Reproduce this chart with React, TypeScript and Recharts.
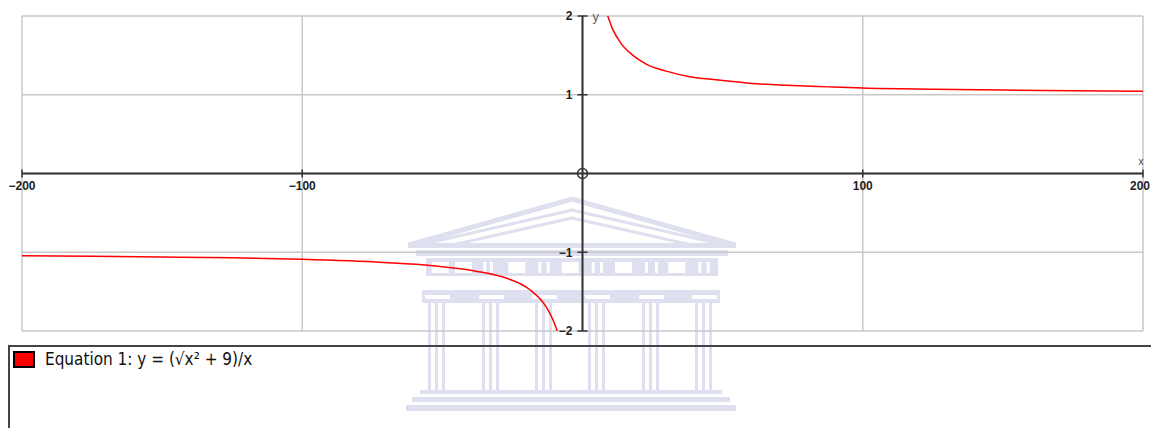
import {
  LineChart,
  Line,
  XAxis,
  YAxis,
  CartesianGrid,
  ReferenceLine,
  ReferenceDot,
} from "recharts";

// values
const RIGHT_X = [9, 10.8, 13.8, 18, 22.7, 29.9, 38.2, 47.7, 62, 72.7, 87.5, 100, 125, 150, 175, 200];
const RIGHT_Y = [2.0, 1.83, 1.65, 1.5, 1.39, 1.3, 1.23, 1.19, 1.14, 1.12, 1.1, 1.085, 1.07, 1.06, 1.05, 1.045];
const LEFT_X = [-200, -175, -150, -125, -100, -71, -53.5, -38, -27, -19, -13, -10.5, -9];
const LEFT_Y = [-1.045, -1.05, -1.06, -1.07, -1.09, -1.13, -1.17, -1.24, -1.33, -1.47, -1.69, -1.86, -2.0];

const X_GRID = [-200, -100, 0, 100, 200];
const Y_GRID = [-2, -1, 0, 1, 2];
const X_LABELS = [-200, -100, 100, 200];
const Y_LABELS = [2, 1, -1, -2];

const LEGEND_TEXT = "Equation 1: y = (√x² + 9)/x";

const rightData = RIGHT_X.map((x, i) => ({ x, y: RIGHT_Y[i] }));
const leftData = LEFT_X.map((x, i) => ({ x, y: LEFT_Y[i] }));

const fmt = (v: number) => (v < 0 ? `\u2212${-v}` : `${v}`);

const tickFont = {
  fill: "#222",
  fontSize: 12,
  fontWeight: 700,
  fontFamily: "Liberation Sans, Arial, sans-serif",
};

const WM = "#dee0ef";

function Watermark() {
  const cols = [437, 491, 544, 597, 651, 704];
  const wide = [95, 165, 325, 485, 645, 805];
  const slits = [250, 270, 415, 440, 575, 600, 735, 765, 895, 920];
  return (
    <svg width={1151} height={428} style={{ position: "absolute", left: 0, top: 0 }}>
      <polyline points="409,245 572,199 735,245" fill="none" stroke={WM} strokeWidth={5} />
      <polyline points="428,243 572,210 716,243" fill="none" stroke={WM} strokeWidth={3} />
      <polyline points="452,245 572,218 692,245" fill="none" stroke={WM} strokeWidth={3} />
      <rect x={408} y={243} width={328} height={5} fill={WM} />
      <rect x={416} y={250} width={312} height={6} fill={WM} />
      <rect x={426} y={258} width={292} height={18} fill={WM} />
      {wide.map((z) => (
        <rect key={"w" + z} x={400 + z / 3} y={262} width={17} height={11} fill="#fff" />
      ))}
      {slits.map((z) => (
        <rect key={"s" + z} x={400 + z / 3} y={262} width={3} height={11} fill="#fff" />
      ))}
      <rect x={422} y={290} width={298} height={13} fill={WM} />
      {cols.map((c) => (
        <g key={c}>
          <rect x={c - 12} y={295} width={25} height={4} fill="#fff" />
          <rect x={c - 9} y={303} width={3} height={87} fill={WM} />
          <rect x={c - 2} y={303} width={3} height={87} fill={WM} />
          <rect x={c + 5} y={303} width={3} height={87} fill={WM} />
        </g>
      ))}
      <rect x={420} y={390} width={302} height={4} fill={WM} />
      <rect x={412} y={397} width={318} height={5} fill={WM} />
      <rect x={406} y={405} width={330} height={6} fill={WM} />
    </svg>
  );
}

export default function App() {
  return (
    <div
      style={{
        position: "absolute",
        left: 0,
        top: 0,
        width: 1151,
        height: 428,
        overflow: "hidden",
        background: "#fff",
      }}
    >
      <Watermark />
      <div style={{ position: "absolute", left: 0, top: 0 }}>
        <LineChart width={1151} height={345} margin={{ top: 16, right: 8, bottom: 14, left: 22 }}>
          <XAxis type="number" dataKey="x" domain={[-200, 200]} ticks={X_GRID} hide allowDataOverflow />
          <YAxis type="number" dataKey="y" domain={[-2, 2]} ticks={Y_GRID} hide allowDataOverflow />
          <CartesianGrid stroke="#c8c8c8" strokeWidth={1.5} />
          <ReferenceLine y={0} stroke="#333" strokeWidth={2} ifOverflow="visible" />
          <ReferenceLine x={0} stroke="#333" strokeWidth={2} ifOverflow="visible" />
          {X_LABELS.map((v) => (
            <ReferenceLine
              key={"xt" + v}
              segment={[{ x: v, y: -0.05 }, { x: v, y: 0.05 }]}
              stroke="#333"
              strokeWidth={1.5}
              ifOverflow="visible"
            />
          ))}
          {Y_LABELS.map((v) => (
            <ReferenceLine
              key={"yt" + v}
              segment={[{ x: -1.8, y: v }, { x: 1.8, y: v }]}
              stroke="#333"
              strokeWidth={1.5}
              ifOverflow="visible"
            />
          ))}
          {X_LABELS.map((v) => (
            <ReferenceDot
              key={"xl" + v}
              x={v}
              y={0}
              r={0}
              stroke="none"
              ifOverflow="visible"
              label={{
                value: fmt(v),
                position: "bottom",
                offset: 8,
                dx: v === 200 ? -3 : 0,
                ...tickFont,
              }}
            />
          ))}
          {Y_LABELS.map((v) => (
            <ReferenceDot
              key={"yl" + v}
              x={0}
              y={v}
              r={0}
              stroke="none"
              ifOverflow="visible"
              label={{ value: fmt(v), position: "left", offset: 10, ...tickFont }}
            />
          ))}
          <ReferenceDot
            x={0}
            y={2}
            r={0}
            stroke="none"
            ifOverflow="visible"
            label={{ value: "y", position: "right", offset: 10, fill: "#666", fontSize: 13, fontFamily: "Liberation Sans, Arial, sans-serif" }}
          />
          <ReferenceDot
            x={200}
            y={0}
            r={0}
            stroke="none"
            ifOverflow="visible"
            label={{ value: "x", position: "top", offset: 9, dx: -2, fill: "#444", fontSize: 10, fontFamily: "Liberation Sans, Arial, sans-serif" }}
          />
          <ReferenceDot x={0} y={0} r={5} fill="none" stroke="#333" strokeWidth={1.5} ifOverflow="visible" />
          <Line
            data={rightData}
            dataKey="y"
            type="monotone"
            stroke="#ff0000"
            strokeWidth={1.5}
            dot={false}
            activeDot={false}
            isAnimationActive={false}
          />
          <Line
            data={leftData}
            dataKey="y"
            type="monotone"
            stroke="#ff0000"
            strokeWidth={1.5}
            dot={false}
            activeDot={false}
            isAnimationActive={false}
          />
        </LineChart>
      </div>
      <div
        style={{
          position: "absolute",
          left: 8,
          top: 345,
          width: 1200,
          height: 120,
          borderTop: "2px solid #444",
          borderLeft: "2px solid #444",
        }}
      >
        <div
          style={{
            position: "absolute",
            left: 3,
            top: 4,
            width: 22,
            height: 17,
            boxSizing: "border-box",
            background: "#ff0000",
            border: "2px solid #000",
          }}
        />
        <div
          style={{
            position: "absolute",
            left: 35,
            top: 2,
            fontFamily: "Liberation Sans Narrow, DejaVu Sans Condensed, sans-serif",
            fontSize: 17,
            color: "#111",
            whiteSpace: "nowrap",
          }}
        >
          {LEGEND_TEXT}
        </div>
      </div>
    </div>
  );
}
